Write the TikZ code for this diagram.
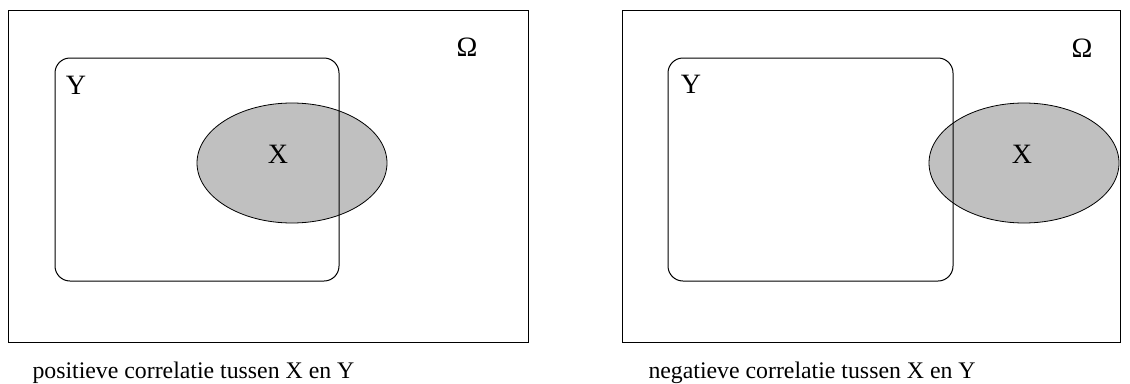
\documentclass[tikz,border=0pt]{standalone}
\usepackage{fontspec}
\setmainfont{Liberation Serif}
\usetikzlibrary{positioning}
\definecolor{setgray}{RGB}{192,192,192}

\begin{document}
\begin{tikzpicture}[x=1pt,y=-1pt,line width=1pt]
\tikzset{
  univ/.style={draw,line width=1pt},
  setY/.style={draw,line width=1pt,rounded corners=15pt},
  setX/.style={draw,fill=setgray,line width=0.8pt},
  lbl/.style={inner sep=0pt,font=\fontsize{28}{32}\selectfont},
  capt/.style={inner sep=0pt,anchor=base west,font=\fontsize{23.8}{28}\selectfont}
}
\useasboundingbox (0,0) rectangle (1130,383);
% ---- left: positive correlation ----
\begin{scope}
\draw[univ] (8,10) rectangle (528,342);
\draw[setX] (292,163) ellipse (95 and 60);
\draw[setY] (55,58) rectangle (339,281);
\node[lbl] (omL) at (467,47) {Ω};
\node[lbl] (yL) at (76,85) {Y};
\node[lbl] (xL) at (278,154) {X};
\node[capt] (capL) at (32,378) {positieve correlatie tussen X en Y};
\end{scope}
% ---- right: negative correlation ----
\begin{scope}
\draw[univ] (622,10) rectangle (1120,342);
\draw[setX] (1024,163) ellipse (95 and 60);
\draw[setY] (668,58) rectangle (953,281);
\node[lbl] (omR) at (1082,48) {Ω};
\node[lbl] (yR) at (691,84) {Y};
\node[lbl] (xR) at (1022,154) {X};
\node[capt] (capR) at (648,378) {negatieve correlatie tussen X en Y};
\end{scope}
\end{tikzpicture}
\end{document}
